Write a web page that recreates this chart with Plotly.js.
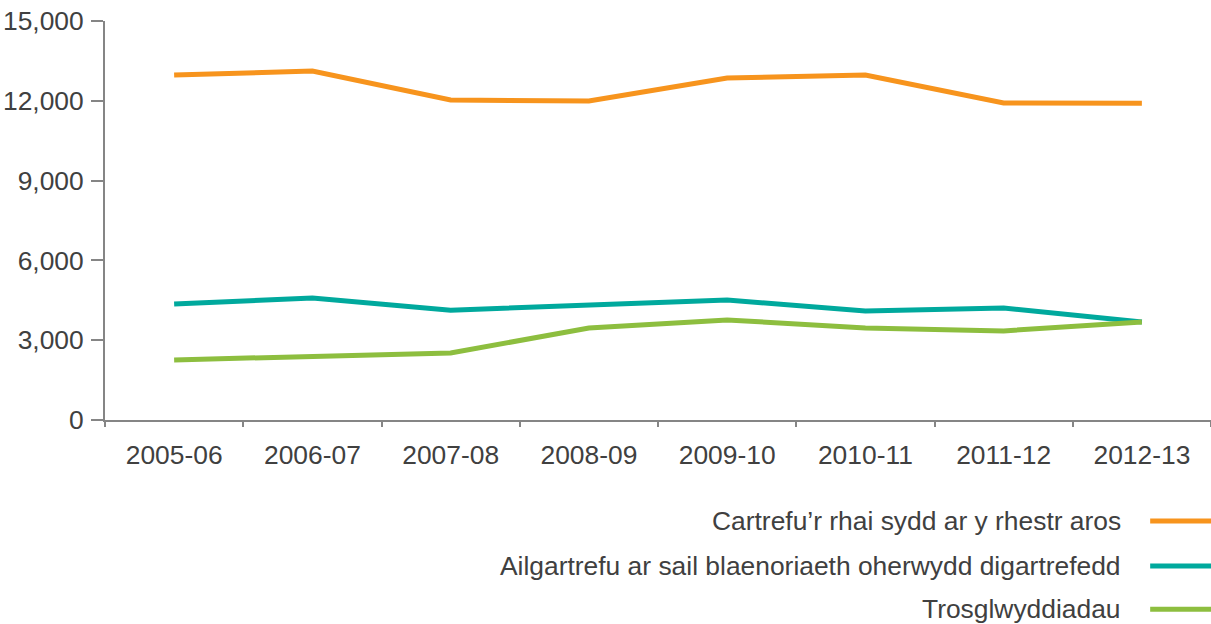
<!DOCTYPE html>
<html>
<head>
<meta charset="utf-8">
<script src="https://cdn.plot.ly/plotly-3.0.1.min.js"></script>
<style>
  html, body { margin: 0; padding: 0; background: #fff; }
  #chart { width: 1211px; height: 624px; }
</style>
</head>
<body>
<div id="chart"></div>
<script>
const years = ["2005-06", "2006-07", "2007-08", "2008-09", "2009-10", "2010-11", "2011-12", "2012-13"];
const seriesNames = [
  "Cartrefu\u2019r rhai sydd ar y rhestr aros",
  "Ailgartrefu ar sail blaenoriaeth oherwydd digartrefedd",
  "Trosglwyddiadau"
];
const waitingList = [12970, 13120, 12030, 11990, 12860, 12970, 11920, 11910];
const homelessPriority = [4360, 4590, 4130, 4320, 4510, 4100, 4210, 3680];
const transfers = [2260, 2370, 2520, 3460, 3760, 3460, 3350, 3680];
const yTickVals = [0, 3000, 6000, 9000, 12000, 15000];
const yTickText = ["0", "3,000", "6,000", "9,000", "12,000", "15,000"];
const colors = ["#F7941D", "#00A99D", "#8DBE3F"];

const FONT = "Liberation Sans, Arial, sans-serif";
const TXT = "#404040";
const AX = "#858585";
const FS = 26.4;

const seriesValues = [waitingList, homelessPriority, transfers];
const traces = seriesValues.map((vals, i) => ({
  type: "scatter",
  mode: "lines",
  x: years,
  y: vals,
  name: seriesNames[i],
  line: { color: colors[i], width: 5 },
  showlegend: false,
  hoverinfo: "x+y+name"
}));

const legendY = [-0.253, -0.366, -0.474];
const annotations = seriesNames.map((n, i) => ({
  xref: "paper", yref: "paper",
  x: 0.9205, y: legendY[i],
  xanchor: "right", yanchor: "middle",
  text: n, showarrow: false,
  font: { family: FONT, size: FS, color: TXT }
}));
const shapes = seriesNames.map((n, i) => ({
  type: "line", xref: "paper", yref: "paper",
  x0: 0.945, x1: 1.0, y0: legendY[i], y1: legendY[i],
  line: { color: colors[i], width: 5 }
}));

const layout = {
  width: 1211, height: 624,
  margin: { l: 105, r: 0, t: 21, b: 204 },
  paper_bgcolor: "#ffffff",
  plot_bgcolor: "#ffffff",
  font: { family: FONT, size: FS, color: TXT },
  xaxis: {
    type: "category",
    range: [-0.5, 7.5],
    showgrid: false,
    zeroline: false,
    showline: true,
    linecolor: AX,
    linewidth: 2,
    ticks: "outside",
    tickson: "boundaries",
    ticklen: 5,
    tickwidth: 2,
    tickcolor: AX,
    ticklabelstandoff: 10,
    tickfont: { family: FONT, size: FS, color: TXT }
  },
  yaxis: {
    range: [0, 15000],
    tickvals: yTickVals,
    ticktext: yTickText,
    showgrid: false,
    zeroline: false,
    showline: true,
    linecolor: AX,
    linewidth: 2,
    ticks: "outside",
    ticklen: 12,
    tickwidth: 2,
    tickcolor: AX,
    ticklabelstandoff: 2,
    tickfont: { family: FONT, size: FS, color: TXT }
  },
  annotations: annotations,
  shapes: shapes,
  showlegend: false
};

Plotly.newPlot("chart", traces, layout, { displayModeBar: false, staticPlot: true });
</script>
</body>
</html>
